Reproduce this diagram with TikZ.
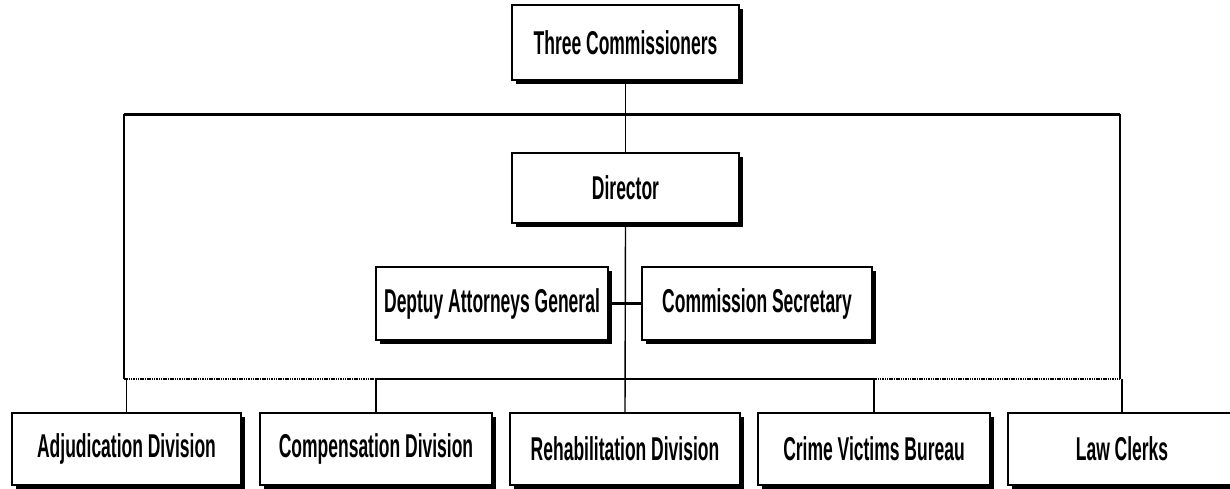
\documentclass[tikz,border=0pt]{standalone}
\usepackage{fontspec}
\newfontfamily\orgfont{Liberation Sans}[FakeStretch=0.53]
\usetikzlibrary{shadows}

\tikzset{
  orgbox/.style={draw, line width=1.8pt, fill=white, inner sep=0pt,
    font=\orgfont\bfseries\fontsize{33}{33}\selectfont,
    drop shadow={shadow xshift=3.5pt, shadow yshift=-3.5pt, fill=black, opacity=1}},
  thinline/.style={line width=1.4pt},
  heavyline/.style={line width=3pt},
  dotline/.style={line width=1.6pt, dash pattern=on 1.5pt off 0.8pt},
}

\begin{document}
\begin{tikzpicture}[x=1pt,y=-1pt]
\useasboundingbox (0,0) rectangle (1230,488);

% frame of the commission
\coordinate (tl) at (124,114);
\coordinate (tr) at (1120,114);
\coordinate (bl) at (124,379);
\coordinate (br) at (1120,379);
\coordinate (bm1) at (375,379);
\coordinate (bm2) at (873,379);

% boxes
\node[orgbox, minimum width=227pt, minimum height=75pt] (tc) at (625.5,42.5) {Three Commissioners};
\node[orgbox, minimum width=227pt, minimum height=70pt] (dir) at (625.5,188) {Director};
\node[orgbox, minimum width=232pt, minimum height=73pt] (dep) at (492,303.5) {Deptuy Attorneys General};
\node[orgbox, minimum width=230pt, minimum height=73pt] (com) at (757,303.5) {Commission Secretary};

\node[orgbox, minimum width=229pt, minimum height=72pt] (adj) at (126.5,449) {Adjudication Division};
\node[orgbox, minimum width=232pt, minimum height=72pt] (cmp) at (376,449) {Compensation Division};
\node[orgbox, minimum width=230pt, minimum height=72pt] (reh) at (625,449) {Rehabilitation Division};
\node[orgbox, minimum width=232pt, minimum height=72pt] (cvb) at (874,449) {Crime Victims Bureau};
\node[orgbox, minimum width=228pt, minimum height=72pt] (law) at (1122,449) {Law Clerks};

% connectors
\draw[heavyline] (tl) -- (tr);
\draw[thinline] (tl) -- (bl);
\draw[thinline] (tr) -- (br);
\draw[thinline] (tc.south) -- (dir.north);
\draw[thinline] (dir.south) -- (reh.north);
\draw[heavyline] (dep.east) -- (com.west);
\draw[dotline] (bl) -- (bm1);
\draw[dotline] (bm2) -- (br);
\draw[line width=2.2pt] (bm1) -- (bm2);
\draw[thinline] (adj.north |- bl) -- (adj.north);
\draw[thinline] (cmp.north |- bl) -- (cmp.north);
\draw[thinline] (cvb.north |- bl) -- (cvb.north);
\draw[thinline] (law.north |- bl) -- (law.north);
\end{tikzpicture}
\end{document}
